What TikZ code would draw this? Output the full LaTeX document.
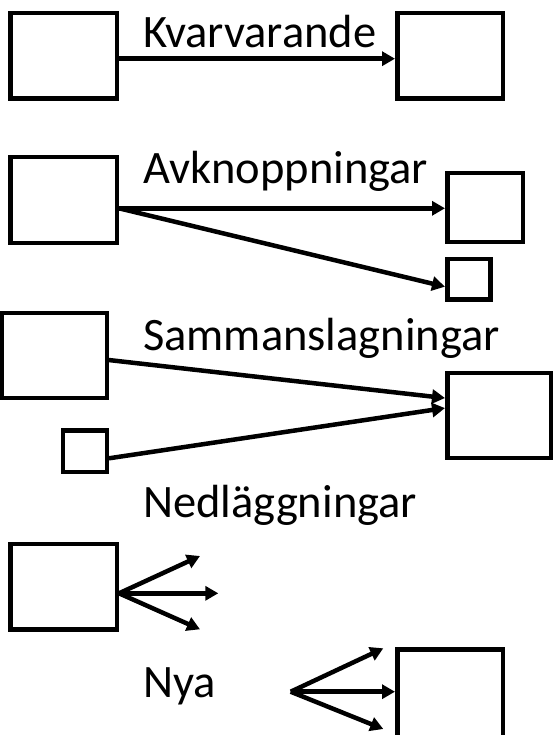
\documentclass[tikz,border=0pt]{standalone}
\usepackage{fontspec}
\setmainfont{Carlito}
\usetikzlibrary{arrows.meta}
\tikzset{
  box/.style={draw=black, line width=4.5pt, fill=white, rectangle, inner sep=0pt},
  conn/.style={line width=4.5pt, -{Triangle[length=13pt,width=14pt]}},
  lbl/.style={anchor=base west, inner sep=0pt, font=\fontsize{46.5pt}{50pt}\selectfont}
}
\begin{document}
\begin{tikzpicture}[x=1pt, y=-1pt]
\useasboundingbox (0,0) rectangle (554,735);
\clip (0,0) rectangle (554,735);
% Kvarvarande
\node[box, minimum width=106.5pt, minimum height=85.5pt] (b1) at (63.5,55.7) {};
\node[box, minimum width=105.5pt, minimum height=85.5pt] (b2) at (450,55.7) {};
\node[lbl] (t1) at (143,47.5) {Kvarvarande};
\draw[conn] ([yshift=-3pt]b1.east) -- ([yshift=-3pt]b2.west);
% Avknoppningar
\node[box, minimum width=106.5pt, minimum height=85.5pt] (b3) at (63.5,200) {};
\node[box, minimum width=75.5pt, minimum height=69.1pt] (b4) at (485,207.5) {};
\node[box, minimum width=43.2pt, minimum height=40.5pt] (b5) at (468.85,279.2) {};
\node[lbl] (t2) at (143,184) {Avknoppningar};
\coordinate (o3) at ([yshift=-8.3pt]b3.east);
\draw[conn] (o3) -- (o3 -| b4.west);
\draw[conn] (o3) -- ([yshift=-7.5pt]b5.west);
% Sammanslagningar
\node[box, minimum width=105pt, minimum height=84.8pt] (b6) at (54.25,355.35) {};
\node[box, minimum width=103.5pt, minimum height=84.8pt] (b7) at (499,415.35) {};
\node[box, minimum width=43.8pt, minimum height=41.5pt] (b8) at (84.85,451) {};
\node[lbl] (t3) at (143,350) {Sammanslagningar};
\draw[conn] ([yshift=-4.7pt]b6.east) -- ([yshift=17.3pt]b7.west);
\draw[conn] ([yshift=-7.3pt]b8.east) -- ([yshift=7.3pt]b7.west);
% Nedläggningar
\node[lbl] (t4) at (143,517.5) {Nedläggningar};
\node[box, minimum width=106.5pt, minimum height=85.5pt] (b9) at (63.5,586.7) {};
\coordinate (o9) at ([yshift=-6.6pt]b9.east);
\coordinate (e9a) at (200,556);
\coordinate (e9b) at (218.3,593.3);
\coordinate (e9c) at (200,629.3);
\draw[conn] (o9) -- (e9a);
\draw[conn] (o9) -- (e9b);
\draw[conn] (o9) -- (e9c);
% Nya
\node[lbl] (t5) at (143,697.5) {Nya};
\node[box, minimum width=105.5pt, minimum height=88.2pt] (b10) at (450,693.65) {};
\coordinate (o10) at (290.7,691.7);
\coordinate (e10a) at (383.3,648.3);
\coordinate (e10c) at (383.3,729);
\draw[conn] (o10) -- (e10a);
\draw[conn] (o10) -- (o10 -| b10.west);
\draw[conn] (o10) -- (e10c);
\end{tikzpicture}
\end{document}
